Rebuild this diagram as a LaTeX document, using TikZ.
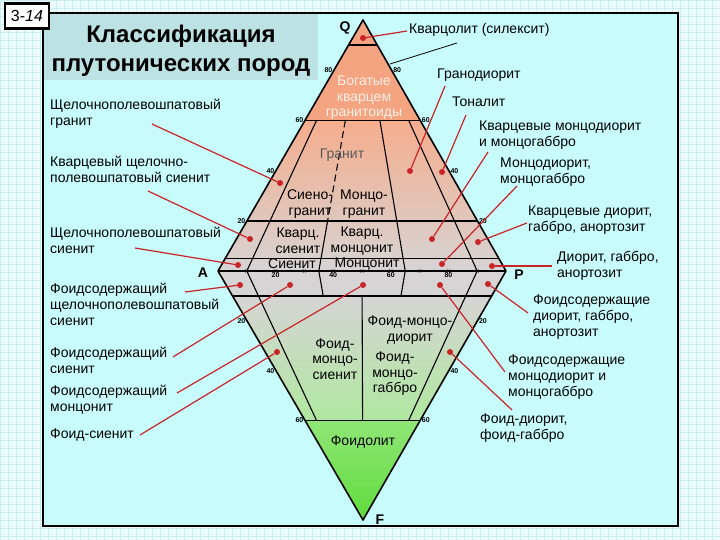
\documentclass[tikz,border=0pt]{standalone}
\usepackage{fontspec}
\setmainfont{Liberation Sans}
\usetikzlibrary{calc}

\definecolor{bgcyan}{RGB}{236,252,252}
\definecolor{gridcyan}{RGB}{204,238,242}
\definecolor{panelcyan}{RGB}{200,252,252}
\definecolor{titlegray}{RGB}{188,226,228}
\definecolor{salmon}{RGB}{244,164,128}
\definecolor{rockgray}{RGB}{214,212,212}
\definecolor{foidgreen}{RGB}{176,232,160}
\definecolor{foidbright}{RGB}{96,220,60}
\definecolor{leadred}{RGB}{200,36,40}

\begin{document}
\begin{tikzpicture}[x=1pt, y=-1pt,
  lbl/.style={font=\fontsize{14}{16}\selectfont, align=left, anchor=west, inner sep=0pt},
  inlbl/.style={font=\fontsize{14}{15.5}\selectfont, align=center, inner sep=0pt},
  num/.style={font=\fontsize{7}{8}\selectfont\bfseries, inner sep=1.5pt},
  apex/.style={font=\fontsize{14}{16}\selectfont\bfseries, inner sep=0pt},
  pdot/.style={circle, fill=leadred, inner sep=0pt, minimum size=6pt},
  leader/.style={draw=leadred, line width=1.2pt},
  outl/.style={line width=1.6pt, line join=round},
  bnd/.style={line width=1.1pt}]
\useasboundingbox (0,0) rectangle (720,540);
% background and panel
\fill[bgcyan] (0,0) rectangle (720,540);
\draw[gridcyan, line width=0.4pt, step=8pt] (0,540) grid (720,0);
\draw[fill=panelcyan, line width=1.2pt] (43,13) rectangle (678,526);
\fill[titlegray] (44,14) rectangle (318,80);
\node[font=\fontsize{24}{29}\selectfont\bfseries, align=center] (title) at (181,51) {Классификация\\плутонических пород};
\node[draw, fill=white, line width=2.5pt, minimum width=44pt, minimum height=25pt, font=\fontsize{16}{18}\selectfont] (tag) at (27,16) {3-\textit{14}};

% QAPF corners
\coordinate (Q) at (363,20);
\coordinate (A) at (218,271);
\coordinate (P) at (506,271);
\coordinate (F) at (363,520);
\coordinate (ql90) at ($(A)!.9!(Q)$);  \coordinate (qr90) at ($(P)!.9!(Q)$);
\coordinate (ql60) at ($(A)!.6!(Q)$);  \coordinate (qr60) at ($(P)!.6!(Q)$);
\coordinate (ql20) at ($(A)!.2!(Q)$);  \coordinate (qr20) at ($(P)!.2!(Q)$);
\coordinate (ql5) at ($(A)!.05!(Q)$);  \coordinate (qr5) at ($(P)!.05!(Q)$);
\coordinate (fl10) at ($(A)!.1!(F)$);  \coordinate (fr10) at ($(P)!.1!(F)$);
\coordinate (fl60) at ($(A)!.6!(F)$);  \coordinate (fr60) at ($(P)!.6!(F)$);

% fills
\fill[salmon] (Q) -- (ql60) -- (qr60) -- cycle;
\shade[top color=salmon!90!white, bottom color=rockgray] (ql60) -- (qr60) -- (P) -- (A) -- cycle;
\fill[rockgray] (A) -- (P) -- (fr10) -- (fl10) -- cycle;
\shade[top color=rockgray, bottom color=foidgreen] (fl10) -- (fr10) -- (fr60) -- (fl60) -- cycle;
\shade[top color=foidbright!70!white, bottom color=foidbright] (fl60) -- (fr60) -- (F) -- cycle;

% field boundaries
\draw[outl] (Q) -- (A) -- (F) -- (P) -- cycle;
\draw[outl] (ql90) -- (qr90) (ql60) -- (qr60) (ql20) -- (qr20) (fl10) -- (fr10) (fl60) -- (fr60);
\draw[bnd] (ql5) -- (qr5) (A) -- (P);
\draw[bnd] ($(ql60)!.1!(qr60)$) -- ($(A)!.1!(P)$) -- ($(fl60)!.1!(fr60)$);
\draw[bnd] ($(ql60)!.9!(qr60)$) -- ($(A)!.9!(P)$) -- ($(fl60)!.9!(fr60)$);
\draw[bnd] ($(ql60)!.65!(qr60)$) -- ($(A)!.65!(P)$) -- ($(fl10)!.65!(fr10)$);
\draw[bnd, dash pattern=on 7pt off 4pt] ($(ql60)!.35!(qr60)$) -- ($(ql20)!.35!(qr20)$);
\draw[bnd] ($(ql20)!.35!(qr20)$) -- ($(A)!.35!(P)$) -- ($(fl10)!.35!(fr10)$);
\draw[bnd] ($(fl10)!.5!(fr10)$) -- ($(fl60)!.5!(fr60)$);
\foreach \t in {.1,.2,.3,.4,.5,.6,.7,.8,.9}
  \draw[line width=.5pt] ($(A)!\t!(P)+(-1.5,-1.5)$) -- +(3,3) ($(A)!\t!(P)+(-1.5,1.5)$) -- +(3,-3);
\coordinate (k1) at (390,64);
\coordinate (k2) at (457,43);
\draw[line width=.8pt] (k1) -- (k2);

% scale numbers
\node[num, below] (ap20) at ($(A)!.2!(P)$) {20};
\node[num, below] (ap40) at ($(A)!.4!(P)$) {40};
\node[num, below] (ap60) at ($(A)!.6!(P)$) {60};
\node[num, below] (ap80) at ($(A)!.8!(P)$) {80};
\node[num, left] (ql80n) at ($(A)!.8!(Q)$) {80};
\node[num, left] (ql60n) at (ql60) {60};
\node[num, left] (ql40n) at ($(A)!.4!(Q)$) {40};
\node[num, left] (ql20n) at (ql20) {20};
\node[num, right] (qr80n) at ($(P)!.8!(Q)$) {80};
\node[num, right] (qr60n) at (qr60) {60};
\node[num, right] (qr40n) at ($(P)!.4!(Q)$) {40};
\node[num, right] (qr20n) at (qr20) {20};
\node[num, left] (fl20n) at ($(A)!.2!(F)$) {20};
\node[num, left] (fl40n) at ($(A)!.4!(F)$) {40};
\node[num, left] (fl60n) at (fl60) {60};
\node[num, right] (fr20n) at ($(P)!.2!(F)$) {20};
\node[num, right] (fr40n) at ($(P)!.4!(F)$) {40};
\node[num, right] (fr60n) at (fr60) {60};

% corner letters
\node[apex] (lQ) at (345,28) {Q};
\node[apex] (lA) at (203,273) {A};
\node[apex] (lP) at (519,275) {P};
\node[apex] (lF) at (380,520) {F};

% field names
\node[inlbl, text={rgb,255:red,255;green,240;blue,232}] (rich) at (364,98) {Богатые\\кварцем\\гранитоиды};
\node[inlbl, text=black!65] (gran) at (342,155) {Гранит};
\node[inlbl] (syg) at (310,204) {Сиено-\\гранит};
\node[inlbl] (mzg) at (364,204) {Монцо-\\гранит};
\node[inlbl] (qsy) at (298,241) {Кварц.\\сиенит};
\node[inlbl] (qmz) at (362,241) {Кварц.\\монцонит};
\node[inlbl] (sy) at (292,264) {Сиенит};
\node[inlbl] (mz) at (367,264) {Монцонит};
\node[inlbl] (fmzd) at (410,330) {Фоид-монцо-\\диорит};
\node[inlbl] (fmzs) at (335,359) {Фоид-\\монцо-\\сиенит};
\node[inlbl] (fmzg) at (395,374) {Фоид-\\монцо-\\габбро};
\node[inlbl] (foid) at (363,442) {Фоидолит};

% left labels
\node[lbl] (t1) at (50,114) {Щелочнополевошпатовый\\гранит};
\node[lbl] (t2) at (50,169) {Кварцевый щелочно-\\полевошпатовый сиенит};
\node[lbl] (t3) at (50,240) {Щелочнополевошпатовый\\сиенит};
\node[lbl] (t4) at (50,304) {Фоидсодержащий\\щелочнополевошпатовый\\сиенит};
\node[lbl] (t5) at (50,360) {Фоидсодержащий\\сиенит};
\node[lbl] (t6) at (50,400) {Фоидсодержащий\\монцонит};
\node[lbl] (t7) at (50,435) {Фоид-сиенит};

% right labels
\node[lbl] (r1) at (409,30) {Кварцолит (силексит)};
\node[lbl] (r2) at (437,75) {Гранодиорит};
\node[lbl] (r3) at (452,102) {Тоналит};
\node[lbl] (r4) at (479,135) {Кварцевые монцодиорит\\и монцогаббро};
\node[lbl] (r5) at (500,172) {Монцодиорит,\\монцогаббро};
\node[lbl] (r6) at (528,220) {Кварцевые диорит,\\габбро, анортозит};
\node[lbl] (r7) at (557,266) {Диорит, габбро,\\анортозит};
\node[lbl] (r8) at (533,317) {Фоидсодержащие\\диорит, габбро,\\анортозит};
\node[lbl] (r9) at (508,377) {Фоидсодержащие\\монцодиорит и\\монцогаббро};
\node[lbl] (r10) at (480,428) {Фоид-диорит,\\фоид-габбро};

% dots
\node[pdot] (dl1) at (280,183) {};
\node[pdot] (dl2) at (250,239) {};
\node[pdot] (dl3) at (238,265) {};
\node[pdot] (dl4) at (240,285) {};
\node[pdot] (dl5) at (290,285) {};
\node[pdot] (dl6) at (363,285) {};
\node[pdot] (dl7) at (277,352) {};
\node[pdot] (dr1) at (363,38) {};
\node[pdot] (dr2) at (410,171) {};
\node[pdot] (dr3) at (442,172) {};
\node[pdot] (dr4) at (432,239) {};
\node[pdot] (dr5) at (442,264) {};
\node[pdot] (dr6) at (478,242) {};
\node[pdot] (dr7) at (492,266) {};
\node[pdot] (dr8) at (488,284) {};
\node[pdot] (dr9) at (440,285) {};
\node[pdot] (dr10) at (450,352) {};

% leader ends
\coordinate (sl1) at (152,124);
\coordinate (sl2) at (148,191);
\coordinate (sl3) at (135,248);
\coordinate (sl4) at (185,292);
\coordinate (sl5) at (173,357);
\coordinate (sl6) at (177,393);
\coordinate (sl7) at (140,435);
\coordinate (sr1) at (407,31);
\coordinate (sr2) at (445,86);
\coordinate (sr3) at (466,115);
\coordinate (sr4) at (488,152);
\coordinate (sr5) at (517,186);
\coordinate (sr6) at (527,223);
\coordinate (sr7) at (552,266);
\coordinate (sr8) at (528,313);
\coordinate (sr9) at (505,372);
\coordinate (sr10) at (512,410);

\draw[leader] (sl1) -- (dl1);
\draw[leader] (sl2) -- (dl2);
\draw[leader] (sl3) -- (dl3);
\draw[leader] (sl4) -- (dl4);
\draw[leader] (sl5) -- (dl5);
\draw[leader] (sl6) -- (dl6);
\draw[leader] (sl7) -- (dl7);
\draw[leader] (sr1) -- (dr1);
\draw[leader] (sr2) -- (dr2);
\draw[leader] (sr3) -- (dr3);
\draw[leader] (sr4) -- (dr4);
\draw[leader] (sr5) -- (dr5);
\draw[leader] (sr6) -- (dr6);
\draw[leader] (sr7) -- (dr7);
\draw[leader] (sr8) -- (dr8);
\draw[leader] (sr9) -- (dr9);
\draw[leader] (sr10) -- (dr10);
\end{tikzpicture}
\end{document}
